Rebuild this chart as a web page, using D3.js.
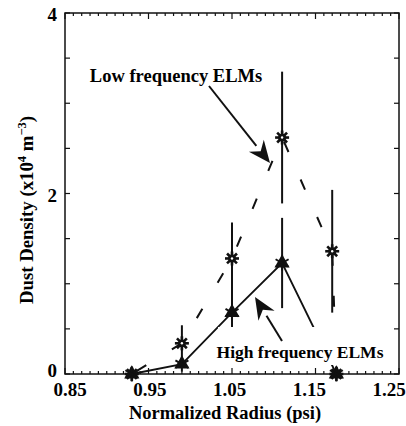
<!DOCTYPE html>
<html>
<head>
<meta charset="utf-8">
<script src="https://cdn.jsdelivr.net/npm/d3@7"></script>
<style>
  body { margin: 0; background: #fff; }
  text { font-family: "Liberation Serif", "Times New Roman", serif; font-weight: bold; }
</style>
</head>
<body>
<script>
// data
const lowRadius = [0.93, 0.99, 1.05, 1.11, 1.17, 1.175];
const lowDensity = [0.0, 0.34, 1.28, 2.62, 1.36, 0.0];
const lowError = [0, 0.2, 0.4, 0.73, 0.68, 0];

const highRadius = [0.93, 0.99, 1.05, 1.11, 1.175];
const highDensity = [0.0, 0.11, 0.68, 1.23, 0.0];
const highError = [0, 0, 0.28, 0.5, 0];

const xTicks = [0.85, 0.95, 1.05, 1.15, 1.25];
const yTicks = [0, 2, 4];

const W = 406, H = 426;
const margin = {left: 65, top: 13, right: 7, bottom: 52};
const w = W - margin.left - margin.right;
const h = H - margin.top - margin.bottom;

const svg = d3.select('body').append('svg')
  .attr('width', W).attr('height', H);
const g = svg.append('g')
  .attr('transform', `translate(${margin.left},${margin.top})`);

const x = d3.scaleLinear().domain([0.85, 1.25]).range([0, w]);
const y = d3.scaleLinear().domain([0, 4]).range([h, 0]);
// tick labels sit a little inside the end ticks, as in the original
const xLab = d3.scaleLinear().domain([0.85, 1.25]).range([5, w - 10]);

const low = lowRadius.map((r, i) => ({r: r, v: lowDensity[i], e: lowError[i]}));
const high = highRadius.map((r, i) => ({r: r, v: highDensity[i], e: highError[i]}));

// frame
g.append('rect').attr('width', w).attr('height', h)
  .attr('fill', 'none').attr('stroke', '#111').attr('stroke-width', 1.5);

// ticks, inward on all four sides
const minorX = d3.range(85, 126).map(d => d / 100);
const ticksY = d3.range(0, 9).map(d => d / 2);
const tk = g.append('g').attr('stroke', '#111').attr('stroke-width', 1.2);
minorX.forEach(d => {
  const major = xTicks.some(t => Math.abs(t - d) < 1e-6);
  const len = major ? 6 : 3;
  tk.append('line').attr('x1', x(d)).attr('x2', x(d)).attr('y1', h).attr('y2', h - len);
  tk.append('line').attr('x1', x(d)).attr('x2', x(d)).attr('y1', 0).attr('y2', len);
});
ticksY.forEach(d => {
  tk.append('line').attr('x1', 0).attr('x2', 5).attr('y1', y(d)).attr('y2', y(d));
  tk.append('line').attr('x1', w).attr('x2', w - 5).attr('y1', y(d)).attr('y2', y(d));
});

// tick labels
g.selectAll('.xl').data(xTicks).join('text')
  .attr('x', d => xLab(d)).attr('y', h + 22)
  .attr('text-anchor', 'middle').attr('font-size', 19)
  .text(d => d.toFixed(2));
g.selectAll('.yl').data(yTicks).join('text')
  .attr('x', -8).attr('y', d => Math.min(y(d) + 8, h + 3))
  .attr('text-anchor', 'end').attr('font-size', 19)
  .text(d => d);

// axis titles
g.append('text').attr('x', w / 2 - 7).attr('y', h + 45)
  .attr('text-anchor', 'middle').attr('font-size', 18.5)
  .text('Normalized Radius (psi)');
const yt = svg.append('text')
  .attr('transform', 'translate(33,210) rotate(-90)')
  .attr('text-anchor', 'middle').attr('font-size', 18.8);
yt.append('tspan').text('Dust Density (x10');
yt.append('tspan').attr('dy', -7).attr('font-size', 12.5).text('4');
yt.append('tspan').attr('dy', 7).text(' m');
yt.append('tspan').attr('dy', -7).attr('font-size', 12.5).text('\u22123');
yt.append('tspan').attr('dy', 7).text(')');

// lines
const line = d3.line().x(d => x(d.r)).y(d => y(d.v));
g.append('path').datum(low).attr('d', line)
  .attr('fill', 'none').attr('stroke', '#111').attr('stroke-width', 2)
  .attr('stroke-dasharray', '11,30').attr('stroke-dashoffset', -6);
g.append('path').datum(high).attr('d', line)
  .attr('fill', 'none').attr('stroke', '#111').attr('stroke-width', 1.8);

// error bars
const bars = low.concat(high).filter(d => d.e > 0);
g.selectAll('.eb').data(bars).join('line')
  .attr('x1', d => x(d.r)).attr('x2', d => x(d.r))
  .attr('y1', d => y(d.v - d.e)).attr('y2', d => y(d.v + d.e))
  .attr('stroke', '#111').attr('stroke-width', 2);

// markers
const lm = g.selectAll('.lm').data(low).join('g')
  .attr('transform', d => `translate(${x(d.r)},${y(d.v)})`);
[0, 45, 90, 135].forEach(a => {
  lm.append('line').attr('x1', -7).attr('x2', 7)
    .attr('transform', `rotate(${a})`)
    .attr('stroke', '#111').attr('stroke-width', 2.6);
});
lm.append('circle').attr('r', 2.8).attr('fill', 'none').attr('stroke', '#111').attr('stroke-width', 2.2);
lm.append('circle').attr('r', 1.2).attr('fill', '#fff');

const hm = g.selectAll('.hm').data(high).join('g')
  .attr('transform', d => `translate(${x(d.r)},${y(d.v)})`);
hm.append('path').attr('d', d3.symbol(d3.symbolTriangle, 100)())
  .attr('fill', '#111');
[0, 60, 120].forEach(a => {
  hm.append('line').attr('y1', -7.5).attr('y2', 7.5)
    .attr('transform', `rotate(${a})`)
    .attr('stroke', '#111').attr('stroke-width', 2);
});

// annotation labels
const pt = (px, py) => [px - margin.left, py - margin.top];
const [bx, by] = pt(218, 327);
g.append('rect').attr('x', bx).attr('y', by).attr('width', 172).attr('height', 38).attr('fill', '#fff');
const [hx, hy] = pt(300, 358);
g.append('text').attr('x', hx).attr('y', hy).attr('text-anchor', 'middle')
  .attr('font-size', 17.5).text('High frequency ELMs');
const [lx, ly] = pt(176, 82);
g.append('text').attr('x', lx).attr('y', ly).attr('text-anchor', 'middle')
  .attr('font-size', 18.5).text('Low frequency ELMs');

// arrows
function arrow(x0, y0, x1, y1) {
  const a = Math.atan2(y1 - y0, x1 - x0);
  const L = 22, Wd = 9.5;
  const bxp = x1 - L * Math.cos(a), byp = y1 - L * Math.sin(a);
  g.append('line').attr('x1', x0 - margin.left).attr('y1', y0 - margin.top)
    .attr('x2', bxp - margin.left).attr('y2', byp - margin.top)
    .attr('stroke', '#111').attr('stroke-width', 2);
  const px = -Math.sin(a) * Wd, py = Math.cos(a) * Wd;
  const nx = x1 - 15 * Math.cos(a), ny = y1 - 15 * Math.sin(a);
  g.append('path')
    .attr('d', `M${x1 - margin.left},${y1 - margin.top}L${bxp + px - margin.left},${byp + py - margin.top}L${nx - margin.left},${ny - margin.top}L${bxp - px - margin.left},${byp - py - margin.top}Z`)
    .attr('fill', '#111');
}
arrow(209, 86, 270, 163);
arrow(282, 341, 255, 297);
</script>
</body>
</html>
